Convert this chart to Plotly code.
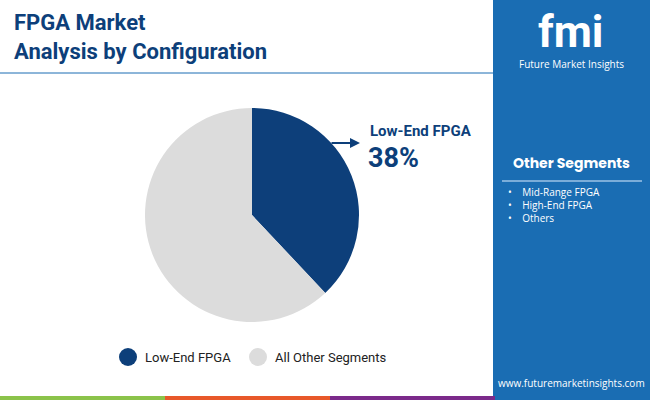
import plotly.graph_objects as go

segments = ["Low-End FPGA", "All Other Segments"]
shares = [38, 62]
colors = ["#0d3f7a", "#dcdcdc"]
other_items = ["Mid-Range FPGA", "High-End FPGA", "Others"]

fig = go.Figure(go.Pie(
    labels=segments, values=shares, marker=dict(colors=colors),
    sort=False, direction="clockwise", rotation=0, textinfo="none",
    hoverinfo="label+percent", showlegend=False,
    domain=dict(x=[145 / 650, 359 / 650], y=[78 / 400, 292 / 400]),
))

shapes = [
    # right panel
    dict(type="rect", xref="paper", yref="paper", x0=493 / 650, x1=1, y0=0, y1=1,
         fillcolor="#1a6db3", line_width=0, layer="below"),
    dict(type="line", xref="paper", yref="paper", x0=502 / 650, x1=642 / 650, y0=219 / 400, y1=219 / 400,
         line=dict(color="#9cc3e6", width=1.5)),
    dict(type="line", xref="paper", yref="paper", x0=0, x1=493 / 650, y0=327 / 400, y1=327 / 400,
         line=dict(color="#1a6db3", width=1)),
]
for i, c in enumerate(["#8bc34a", "#e8582a", "#7b2a8a"]):
    shapes.append(dict(type="rect", xref="paper", yref="paper", x0=i * 165 / 650, x1=(i + 1) * 165 / 650,
                       y0=0, y1=4 / 400, fillcolor=c, line_width=0))
# legend circles
for cx, c in [(128, colors[0]), (258, colors[1])]:
    shapes.append(dict(type="circle", xref="paper", yref="paper",
                       x0=(cx - 9) / 650, x1=(cx + 9) / 650, y0=(43 - 9) / 400, y1=(43 + 9) / 400,
                       fillcolor=c, line_width=0))

ann = [
    dict(x=12 / 650, y=1 - 8 / 400, xanchor="left", yanchor="top", align="left",
         text="<b>FPGA Market<br>Analysis by Configuration</b>",
         font=dict(family="Roboto", size=22, color="#0d3f7a")),
    dict(x=368 / 650, y=1 - 131 / 400, xanchor="left", yanchor="middle",
         text="<b>" + segments[0] + "</b>", font=dict(family="Roboto", size=15, color="#0d3f7a")),
    dict(x=366 / 650, y=1 - 158 / 400, xanchor="left", yanchor="middle",
         text="<b>%d%%</b>" % shares[0], font=dict(family="Roboto", size=27, color="#0d3f7a")),
    dict(x=360 / 650, y=1 - 143 / 400, ax=-30, ay=0,
         text="", showarrow=True, arrowhead=2, arrowsize=1,
         arrowwidth=2, arrowcolor="#0d3f7a"),
    dict(x=143 / 650, y=43 / 400, xanchor="left", yanchor="middle", text=segments[0],
         font=dict(family="Roboto", size=13, color="#222")),
    dict(x=273 / 650, y=43 / 400, xanchor="left", yanchor="middle", text=segments[1],
         font=dict(family="Roboto", size=13, color="#222")),
    dict(x=571 / 650, y=1 - 163 / 400, xanchor="center", yanchor="middle", text="<b>Other Segments</b>",
         font=dict(family="Poppins, Open Sans", size=14, color="white")),
    dict(x=571 / 650, y=1 - 32 / 400, xanchor="center", yanchor="middle", text="<b>fmi</b>",
         font=dict(family="Roboto", size=44, color="white")),
    dict(x=571 / 650, y=1 - 64 / 400, xanchor="center", yanchor="middle", text="Future Market Insights",
         font=dict(family="Open Sans", size=10, color="white")),
    dict(x=571 / 650, y=1 - 383 / 400, xanchor="center", yanchor="middle",
         text="www.futuremarketinsights.com", font=dict(family="Open Sans", size=10, color="white")),
]
for i, item in enumerate(other_items):
    ann.append(dict(x=506 / 650, y=1 - (192 + i * 13) / 400, xanchor="left", yanchor="middle",
                    text="•&nbsp;&nbsp;&nbsp;&nbsp;" + item,
                    font=dict(family="Open Sans", size=10, color="white")))
for a in ann:
    a.setdefault("showarrow", False)
    a.setdefault("xref", "paper")
    a.setdefault("yref", "paper")

fig.update_layout(width=650, height=400, margin=dict(l=0, r=0, t=0, b=0),
                  paper_bgcolor="white", shapes=shapes, annotations=ann)
fig.write_html("out.html", config={"displayModeBar": False},
               post_script="document.body.style.margin='0';")
